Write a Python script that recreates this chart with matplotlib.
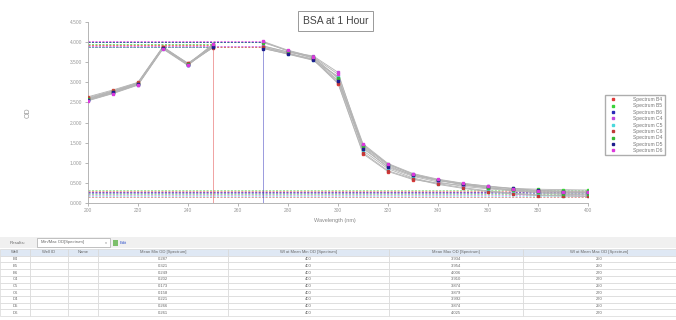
import numpy as np
import matplotlib
matplotlib.use("Agg")
import matplotlib.pyplot as plt
from matplotlib.patches import Rectangle

plt.rcParams['font.family'] = ['Liberation Sans', 'DejaVu Sans']

nan = np.nan
wavelength = [200, 210, 220, 230, 240, 250, 260, 270, 280, 290, 300,
              310, 320, 330, 340, 350, 360, 370, 380, 390, 400]

wells = ["B4", "B5", "B6", "C4", "C5", "C6", "D4", "D5", "D6"]
colors = ["#e03a3a", "#3ad23a", "#2a2ab8", "#c046dc", "#4ad8dc",
          "#c03838", "#36b836", "#1c1c8c", "#dc38dc"]

od_b4 = [2.64, 2.81, 3.00, 3.89, 3.47, 3.93, nan, 3.87, 3.72, 3.57, 2.97, 1.22, 0.78, 0.58, 0.49, 0.44, 0.37, 0.33, 0.31, 0.30, 0.29]
od_b5 = [2.60, 2.78, 2.98, 3.88, 3.45, 3.95, nan, 3.90, 3.76, 3.62, 3.10, 1.40, 0.93, 0.68, 0.55, 0.46, 0.40, 0.36, 0.34, 0.33, 0.32]
od_b6 = [2.55, 2.73, 2.94, 3.85, 3.43, 3.91, nan, 4.01, 3.78, 3.60, 3.05, 1.45, 0.95, 0.72, 0.57, 0.45, 0.38, 0.32, 0.28, 0.26, 0.25]
od_c4 = [2.58, 2.76, 2.97, 3.86, 3.46, 3.88, nan, 3.91, 3.75, 3.66, 3.25, 1.38, 0.88, 0.66, 0.52, 0.41, 0.35, 0.30, 0.25, 0.21, 0.20]
od_c5 = [2.57, 2.74, 2.95, 3.84, 3.44, 3.87, nan, 3.85, 3.70, 3.55, 3.15, 1.30, 0.85, 0.62, 0.48, 0.38, 0.30, 0.24, 0.20, 0.18, 0.17]
od_c6 = [2.62, 2.79, 2.99, 3.87, 3.48, 3.86, nan, 3.88, 3.73, 3.58, 2.99, 1.25, 0.80, 0.60, 0.46, 0.36, 0.28, 0.22, 0.18, 0.17, 0.16]
od_d4 = [2.59, 2.77, 2.96, 3.86, 3.45, 3.92, nan, 3.99, 3.79, 3.63, 3.12, 1.42, 0.97, 0.70, 0.56, 0.47, 0.38, 0.31, 0.27, 0.23, 0.22]
od_d5 = [2.56, 2.75, 2.95, 3.85, 3.44, 3.87, nan, 3.84, 3.71, 3.56, 3.03, 1.35, 0.90, 0.69, 0.58, 0.48, 0.42, 0.36, 0.31, 0.28, 0.27]
od_d6 = [2.54, 2.72, 2.93, 3.83, 3.42, 3.95, nan, 4.02, 3.80, 3.64, 3.20, 1.47, 0.98, 0.73, 0.59, 0.49, 0.41, 0.35, 0.30, 0.27, 0.26]
spectra = [od_b4, od_b5, od_b6, od_c4, od_c5, od_c6, od_d4, od_d5, od_d6]

# results table (Min/Max OD)
mean_min = [0.287, 0.321, 0.249, 0.202, 0.173, 0.158, 0.221, 0.266, 0.261]
wl_min = [400, 400, 400, 400, 400, 400, 400, 400, 400]
mean_max = [3.934, 3.954, 4.006, 3.910, 3.874, 3.879, 3.992, 3.874, 4.025]
wl_max = [250, 250, 270, 270, 250, 270, 270, 250, 270]

col_labels = ["Well", "Well ID", "Name", "Mean Min OD [Spectrum]",
              "Wl at Mean Min OD [Spectrum]", "Mean Max OD [Spectrum]",
              "Wl at Mean Max OD [Spectrum]"]

fig = plt.figure(figsize=(6.76, 3.2), dpi=100)
ax = fig.add_axes([0.130, 0.366, 0.740, 0.565])

# min / max marker lines, first wells drawn on top
for i in reversed(range(len(wells))):
    c = colors[i]
    ax.hlines(mean_max[i], 200, wl_max[i], color=c, lw=0.5, ls=(0, (3, 2)))
    ax.hlines(mean_min[i], 200, wl_min[i], color=c, lw=0.5, ls=(0, (3, 2)), alpha=0.7)

# one drop line per max wavelength, in the colour of the first well there
done = []
for i in range(len(wells)):
    if wl_max[i] in done:
        continue
    done.append(wl_max[i])
    ax.vlines(wl_max[i], 0, mean_max[i], color=colors[i], lw=0.6, alpha=0.55)

lines = []
for i in range(len(wells)):
    ax.plot(wavelength, spectra[i], color="#b4b4b4", lw=0.6, zorder=3)
for i in range(len(wells)):
    ln, = ax.plot(wavelength, spectra[i], ls="none", marker="s", ms=2.0,
                  color=colors[i], zorder=4, label="Spectrum " + wells[i])
    lines.append(ln)

ax.set_xlim(200, 400)
ax.set_ylim(0, 4.5)
ax.set_xticks(range(200, 401, 20))
ax.set_yticks(np.arange(0, 4.51, 0.5))
ax.yaxis.set_major_formatter(matplotlib.ticker.FormatStrFormatter("%.3f"))
ax.tick_params(labelsize=3.5, colors="#999999", length=2, width=0.5, pad=2)
for s in ["top", "right"]:
    ax.spines[s].set_visible(False)
for s in ["left", "bottom"]:
    ax.spines[s].set_color("#aaaaaa")
    ax.spines[s].set_linewidth(0.6)

fig.text(0.496, 0.31, "Wavelength (nm)", fontsize=4, color="#888888", ha="center", va="center")
fig.text(0.042, 0.647, "OD", fontsize=5, color="#999999", rotation=90, ha="center", va="center")
fig.text(0.496, 0.934, "BSA at 1 Hour", fontsize=7.5, color="#444444", ha="center", va="center",
         bbox=dict(boxstyle="square,pad=0.45", fc="white", ec="#999999", lw=0.7))

fig.legend(handles=lines, loc="upper left", bbox_to_anchor=(0.891, 0.712),
           fontsize=3.6, labelspacing=0.28, handletextpad=3.0, markerscale=1.0,
           frameon=True, fancybox=False, edgecolor="#999999", borderpad=0.45,
           handlelength=2.2, labelcolor="#777777")

# toolbar above the table
fig.patches.append(Rectangle((0, (320 - 248) / 320), 1, 11 / 320, transform=fig.transFigure,
                             fc="#f0f0f0", ec="none"))
fig.text(10 / 676, (320 - 242.5) / 320, "Results:", fontsize=3.2, color="#666666", va="center")
fig.patches.append(Rectangle((37 / 676, (320 - 247) / 320), 73 / 676, 9 / 320,
                             transform=fig.transFigure, fc="white", ec="#aaaaaa", lw=0.5))
fig.text(41 / 676, (320 - 242.5) / 320, "Min/Max OD[Spectrum]", fontsize=3.0, color="#666666", va="center")
fig.text(105 / 676, (320 - 242.5) / 320, "v", fontsize=3.0, color="#888888", va="center")
fig.patches.append(Rectangle((113 / 676, (320 - 246) / 320), 5 / 676, 6 / 320,
                             transform=fig.transFigure, fc="#7cbf6a", ec="none"))
fig.text(120 / 676, (320 - 242.5) / 320, "Edit", fontsize=3.0, color="#3355cc", va="center")

# results table
tax = fig.add_axes([0.0, 0.0125, 1.0, 0.209])
tax.axis("off")
cell_text = []
for i in range(len(wells)):
    cell_text.append([wells[i], "", "", "%.3f" % mean_min[i], str(wl_min[i]),
                      "%.3f" % mean_max[i], str(wl_max[i])])
edges = [0, 30, 68, 98, 228, 389, 523, 676]
widths = [(edges[k + 1] - edges[k]) / 676 for k in range(len(edges) - 1)]
tbl = tax.table(cellText=cell_text, colLabels=col_labels, colWidths=widths,
                cellLoc="center", bbox=[0, 0, 1, 1])
tbl.auto_set_font_size(False)
for (r, c), cell in tbl.get_celld().items():
    cell.set_edgecolor("#d8d8d8")
    cell.set_linewidth(0.5)
    cell.get_text().set_fontsize(3.0)
    cell.get_text().set_color("#666666")
    if r == 0:
        cell.set_facecolor("#dfe8f4")

fig.savefig("out.png", dpi=100, facecolor="white")
